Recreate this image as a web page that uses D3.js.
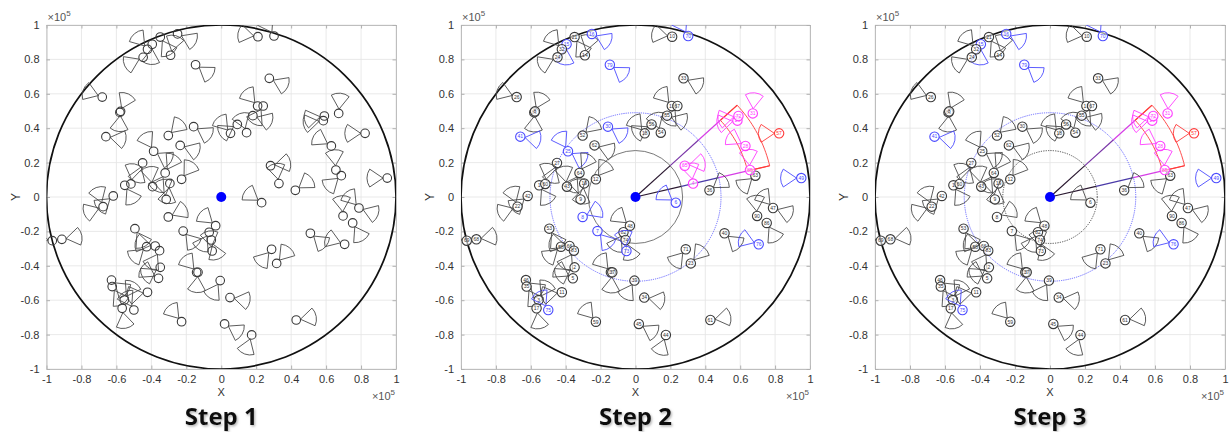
<!DOCTYPE html>
<html><head><meta charset="utf-8">
<script src="https://cdn.jsdelivr.net/npm/d3@7"></script>
<style>body{margin:0;background:#fff}svg{display:block}</style>
</head><body>
<svg id="c" width="1230" height="432"></svg>
<script>
// ---------------- data ----------------
const tickValues = [-1,-0.8,-0.6,-0.4,-0.2,0,0.2,0.4,0.6,0.8,1];
const tickLabels = ["-1","-0.8","-0.6","-0.4","-0.2","0","0.2","0.4","0.6","0.8","1"];
const stepTitles = ["Step 1","Step 2","Step 3"];
// node positions (x10^5)
const nodeX = [-0.681,-0.580,-0.576,-0.660,-0.303,-0.158,-0.235,-0.387,-0.450,-0.321,
  -0.294,-0.227,-0.393,-0.552,-0.517,-0.618,-0.676,-0.315,-0.303,-0.494,
  -0.427,-0.378,-0.353,-0.218,-0.349,-0.359,-0.141,-0.133,-0.628,-0.624,
  -0.555,-0.567,-0.500,-0.422,-0.227,-0.032,-0.069,-0.057,-0.052,-0.006,
  0.050,0.019,0.174,0.288,0.317,0.429,0.231,0.330,0.282,0.424,
  0.510,0.706,0.752,0.788,0.697,0.950,0.687,0.656,0.630,0.584,
  0.590,0.672,0.823,0.275,0.210,0.302,0.208,0.240,0.181,0.145,
  0.092,0.053,-0.147,-0.290,-0.250,-0.349,-0.395,-0.422,-0.447,-0.912,-0.967];
const nodeY = [0.581,0.492,0.498,0.351,0.357,0.409,0.300,0.266,0.198,0.140,
  0.079,0.103,0.060,0.068,0.076,0.006,-0.056,-0.014,-0.116,-0.184,
  -0.289,-0.285,-0.312,-0.198,-0.409,-0.473,-0.438,-0.438,-0.483,-0.521,
  -0.599,-0.647,-0.657,-0.554,-0.725,-0.167,-0.205,-0.250,-0.314,-0.486,
  -0.585,-0.738,-0.802,-0.304,-0.386,-0.715,-0.033,0.078,0.182,0.039,
  -0.211,-0.275,-0.151,-0.064,-0.110,0.110,0.124,0.157,0.297,0.444,
  0.471,0.486,0.370,0.690,0.932,0.936,0.529,0.529,0.473,0.374,
  0.422,0.370,0.769,0.824,0.948,0.930,0.888,0.859,0.812,-0.246,-0.254];
// antenna sector directions (degrees) for each node
const nodeDirs = [[160],[65],[-95],[-10],[45],[-30],[-20],[120,-30],[-110],[60,-120],
  [-100],[55],[100],[-60],[80],[-140],[-160,110],[100],[25],[-60],
  [-140],[170],[-120],[-50],[-150],[150],[130],[-95],[-40],[-60],
  [60],[-80],[120],[-170],[130],[140],[-120],[-70],[100],[-120],
  [-10],[-30],[-110],[-130],[50],[10],[145],[100],[10],[35],
  [-40],[160],[-60],[-20,130],[95],[180],[-140],[95],[150],[-170],
  [-170],[85],[180],[-25],[170],[120],[130],[-120],[-20],[110],
  [-150],[130],[-35],[75],[-25],[-60],[-95],[130],[-155],[10],[170]];
const nodeLabels = ["26","81","8","41","52","30","62","25","27","64",
  "19","12","43","1","60","42","22","9","8","53",
  "58","66","83","7","2","5","38","37","46","35",
  "3","17","75","11","59","48","82","74","73","39",
  "34","45","44","71","23","61","6","4","65","36",
  "40","76","86","47","90","49","63","85","28","29",
  "72","31","57","33","10","70","13","67","55","54",
  "56","18","79","14","16","21","15","32","24","68","69"];
// node ids (1-based) by colour in steps 2 and 3
const step2Blue = [4,6,8,19,24,39,33,47,52,56,66,73,75,77];
const step2Magenta = [48,49,58,59,60,61,62];
const step2Red = [63];
const step3Blue = [4,33,52,56,66,73,75,77];
const step3Magenta = [58,59,60,61,62];
const step3Red = [63];
const step3Hidden = [48,49];
// coverage rings and beam (x10^5, degrees)
const ringRadii = [0.27, 0.49];
const beamAngles = [13.3, 42.5];
const beamRadii = [0.66, 0.79];

// ---------------- layout ----------------
const svg = d3.select("#c");
const panels = [{left:46.5,right:396},{left:461,right:810},{left:875,right:1225}];
const TOP = 25, BOTTOM = 369;
const FONT = "'Liberation Sans', Arial, sans-serif";
const COL = {black:"#3a3a3a", blue:"#4b4bff", magenta:"#ff3cff", red:"#ff3a3a"};

const defs = svg.append("defs");
const f = defs.append("filter").attr("id","sh").attr("x","-10%").attr("y","-10%").attr("width","130%").attr("height","140%");
f.append("feDropShadow").attr("dx",1.2).attr("dy",1.5).attr("stdDeviation",0.9).attr("flood-color","#777").attr("flood-opacity",0.55);

function sectorPath(cx, cy, dirDeg, rc, R, halfDeg) {
  const t = dirDeg*Math.PI/180, a = halfDeg*Math.PI/180;
  const ax = cx + rc*Math.cos(t), ay = cy - rc*Math.sin(t);
  const p1x = ax + R*Math.cos(t+a), p1y = ay - R*Math.sin(t+a);
  const p2x = ax + R*Math.cos(t-a), p2y = ay - R*Math.sin(t-a);
  return `M${ax},${ay}L${p1x},${p1y}A${R},${R} 0 0 1 ${p2x},${p2y}Z`;
}

panels.forEach((p, pi) => {
  const x = d3.scaleLinear().domain([-1,1]).range([p.left,p.right]);
  const y = d3.scaleLinear().domain([-1,1]).range([BOTTOM,TOP]);
  const g = svg.append("g");
  const clipId = "clip"+pi;
  defs.append("clipPath").attr("id",clipId).append("rect")
    .attr("x",p.left).attr("y",TOP).attr("width",p.right-p.left).attr("height",BOTTOM-TOP);

  // grid
  g.append("g").selectAll("line.v").data(tickValues).join("line")
    .attr("x1",d=>x(d)).attr("x2",d=>x(d)).attr("y1",TOP).attr("y2",BOTTOM)
    .attr("stroke","#e3e3e3").attr("stroke-width",0.8);
  g.append("g").selectAll("line.h").data(tickValues).join("line")
    .attr("y1",d=>y(d)).attr("y2",d=>y(d)).attr("x1",p.left).attr("x2",p.right)
    .attr("stroke","#e3e3e3").attr("stroke-width",0.8);

  // axes
  const fmt = (d,i)=>tickLabels[i];
  const ax1 = g.append("g").attr("transform",`translate(0,${BOTTOM})`)
    .call(d3.axisBottom(x).tickValues(tickValues).tickFormat(fmt).tickSize(-3.5).tickSizeOuter(0).tickPadding(6));
  const ax2 = g.append("g").attr("transform",`translate(${p.left},0)`)
    .call(d3.axisLeft(y).tickValues(tickValues).tickFormat(fmt).tickSize(-3.5).tickSizeOuter(0).tickPadding(7));
  const ax3 = g.append("g").attr("transform",`translate(0,${TOP})`)
    .call(d3.axisTop(x).tickValues(tickValues).tickFormat("").tickSize(-3.5).tickSizeOuter(0));
  const ax4 = g.append("g").attr("transform",`translate(${p.right},0)`)
    .call(d3.axisRight(y).tickValues(tickValues).tickFormat("").tickSize(-3.5).tickSizeOuter(0));
  [ax1,ax2,ax3,ax4].forEach(a=>{
    a.select(".domain").attr("stroke","#b8b8b8").attr("stroke-width",0.9);
    a.selectAll(".tick line").attr("stroke","#b0b0b0");
    a.selectAll("text").attr("font-family",FONT).attr("font-size",11).attr("fill","#333");
  });

  // axis labels
  g.append("text").attr("x",(p.left+p.right)/2).attr("y",396).attr("text-anchor","middle")
    .attr("font-family",FONT).attr("font-size",11).attr("fill","#333").text("X");
  g.append("text").attr("transform",`translate(${p.left-27},${(TOP+BOTTOM)/2}) rotate(-90)`)
    .attr("text-anchor","middle").attr("font-family",FONT).attr("font-size",12).attr("fill","#333").text("Y");
  const e1 = g.append("text").attr("x",p.left+1).attr("y",21).attr("font-family",FONT).attr("font-size",11).attr("fill","#555");
  e1.append("tspan").text("×10");
  e1.append("tspan").attr("font-size",8).attr("dy",-5).text("5");
  const e2 = g.append("text").attr("x",p.right-1).attr("y",400).attr("text-anchor","end").attr("font-family",FONT).attr("font-size",11).attr("fill","#555");
  e2.append("tspan").text("×10");
  e2.append("tspan").attr("font-size",8).attr("dy",-5).text("5");

  // title
  g.append("text").attr("x",(p.left+p.right)/2).attr("y",425).attr("text-anchor","middle")
    .attr("font-family","'Open Sans', sans-serif").attr("font-weight",700).attr("font-size",24)
    .attr("fill","#111").attr("filter","url(#sh)").text(stepTitles[pi]);

  const plot = g.append("g").attr("clip-path",`url(#${clipId})`);
  const cx0 = x(0), cy0 = y(0);
  const rx = u => x(u)-x(0), ry = u => y(0)-y(u);

  // outer boundary
  plot.append("ellipse").attr("cx",cx0).attr("cy",cy0).attr("rx",rx(1)).attr("ry",ry(1))
    .attr("fill","none").attr("stroke","#111").attr("stroke-width",1.7);

  if (pi > 0) {
    plot.append("ellipse").attr("cx",cx0).attr("cy",cy0).attr("rx",rx(ringRadii[0])).attr("ry",ry(ringRadii[0]))
      .attr("fill","none").attr("stroke", pi===1 ? "#555" : "#222").attr("stroke-width",0.8)
      .attr("stroke-dasharray", pi===1 ? null : "1.2,1.2");
    plot.append("ellipse").attr("cx",cx0).attr("cy",cy0).attr("rx",rx(ringRadii[1])).attr("ry",ry(ringRadii[1]))
      .attr("fill","none").attr("stroke","#5a5aff").attr("stroke-width",0.9).attr("stroke-dasharray","1.2,1");
    const pt = (r,a)=>[x(r*Math.cos(a*Math.PI/180)), y(r*Math.sin(a*Math.PI/180))];
    const outer = d3.range(0,21).map(i=>pt(beamRadii[1], beamAngles[0]+(beamAngles[1]-beamAngles[0])*i/20));
    const inner = d3.range(0,21).map(i=>pt(beamRadii[0], beamAngles[1]-(beamAngles[1]-beamAngles[0])*i/20));
    plot.append("path").attr("d", d3.line()(outer.concat(inner))+"Z")
      .attr("fill","none").attr("stroke",COL.red).attr("stroke-width",0.9);
    const segs = [[0,ringRadii[0],"#2a1830"],[ringRadii[0],ringRadii[1],"#7a36a8"],[ringRadii[1],beamRadii[0],"#d63ee6"],[beamRadii[0],beamRadii[1],COL.red]];
    beamAngles.forEach((a,ai)=>{
      segs.forEach(s=>{
        const A = pt(s[0],a), B = pt(s[1],a);
        plot.append("line").attr("x1",A[0]).attr("y1",A[1]).attr("x2",B[0]).attr("y2",B[1])
          .attr("stroke", ai===0 && s[2]==="#7a36a8" ? "#4a3aa8" : s[2]).attr("stroke-width",1.2);
      });
    });
  }

  // nodes
  const blue = pi===1 ? step2Blue : pi===2 ? step3Blue : [];
  const mag = pi===1 ? step2Magenta : pi===2 ? step3Magenta : [];
  const red = pi===1 ? step2Red : pi===2 ? step3Red : [];
  const hidden = pi===2 ? step3Hidden : [];
  const nodes = nodeX.map((vx,i)=>({id:i+1,x:vx,y:nodeY[i],dirs:nodeDirs[i],label:nodeLabels[i]}))
    .filter(n=>!hidden.includes(n.id));
  const colorOf = n => blue.includes(n.id) ? COL.blue : mag.includes(n.id) ? COL.magenta : red.includes(n.id) ? COL.red : COL.black;
  const rc = pi===0 ? 4.3 : 4.7;
  const ng = plot.append("g");
  nodes.forEach(n=>{
    const c = colorOf(n);
    const cx = x(n.x), cy = y(n.y);
    n.dirs.forEach(d=>{
      ng.append("path").attr("d",sectorPath(cx,cy,d,rc,16,34))
        .attr("fill","none").attr("stroke", c===COL.black ? "#4a4a4a" : c).attr("stroke-width",0.9);
    });
    ng.append("circle").attr("cx",cx).attr("cy",cy).attr("r",rc)
      .attr("fill", pi===0 ? "none" : "#fff").attr("fill-opacity", pi===0 ? 0 : 0.6)
      .attr("stroke",c).attr("stroke-width",1.1);
    if (pi>0) {
      ng.append("text").attr("x",cx).attr("y",cy+1.8).attr("text-anchor","middle")
        .attr("font-family",FONT).attr("font-size",5).attr("fill", c===COL.black ? "#333" : c).text(n.label);
    }
  });

  plot.append("circle").attr("cx",cx0).attr("cy",cy0).attr("r",5).attr("fill","#0000ff");
});
</script>
</body></html>
